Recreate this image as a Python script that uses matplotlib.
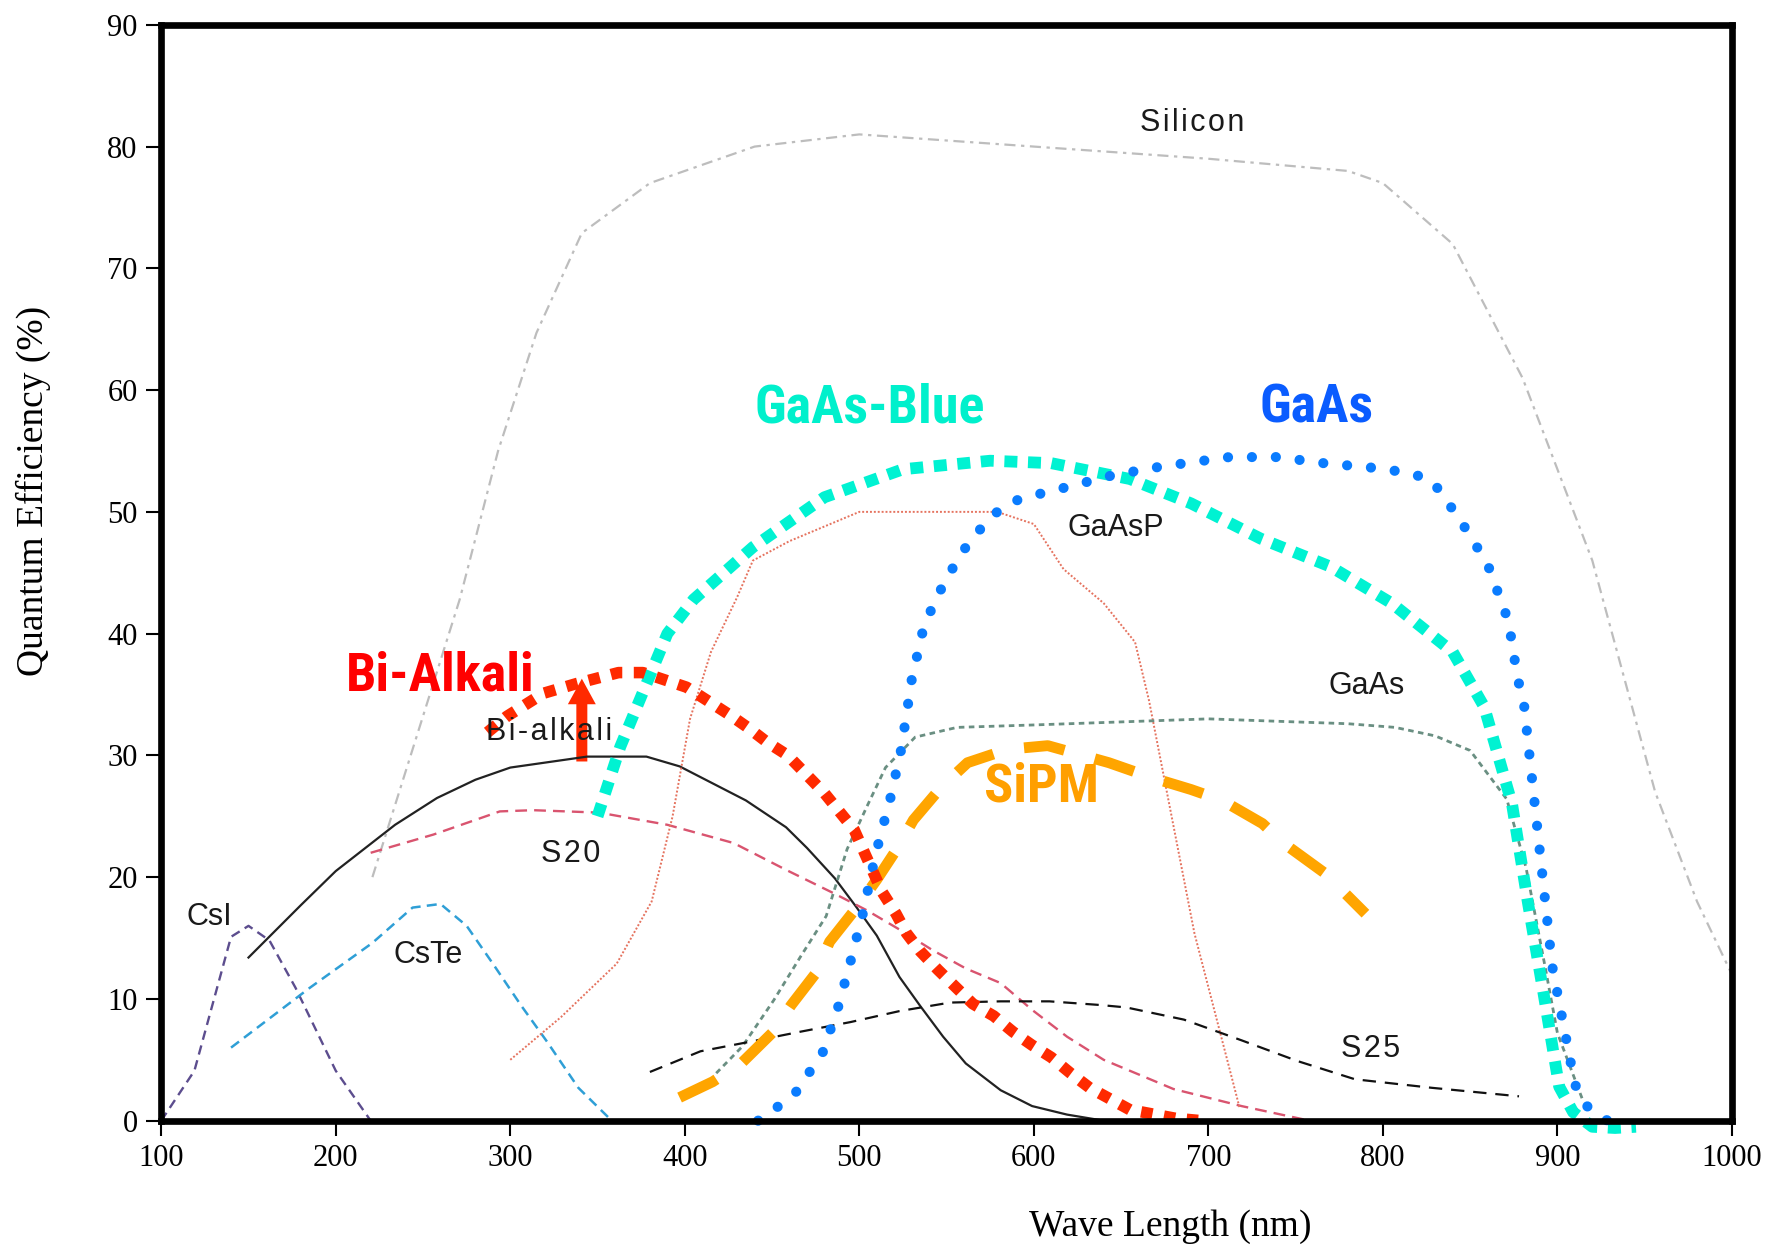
import matplotlib
matplotlib.use('Agg')
import matplotlib.pyplot as plt
from matplotlib import font_manager as fm

# reference photocathode curves (wavelength nm, QE %)
si_x = [221, 271, 293, 315, 341, 380, 440, 500, 600, 700, 780, 800, 840, 880, 920, 956, 980, 1000]
si_y = [20, 42.8, 55, 64.7, 72.9, 77, 80, 81, 80, 79, 78, 77, 72, 61, 46, 27, 18, 12]

bia_x = [150, 180, 200, 234, 258, 280, 300, 344, 378, 397, 435, 458, 470, 486, 498, 510, 523, 535, 548, 561, 581, 599, 619, 640]
bia_y = [13.4, 17.7, 20.5, 24.3, 26.5, 28, 29, 29.9, 29.9, 29.1, 26.3, 24.1, 22.4, 19.9, 17.6, 15.2, 11.8, 9.4, 6.9, 4.7, 2.5, 1.2, 0.5, 0]

s20_x = [220, 256, 294, 313, 351, 390, 428, 458, 485, 504, 523, 542, 561, 581, 599, 619, 640, 680, 719, 758]
s20_y = [22, 23.5, 25.4, 25.5, 25.3, 24.3, 22.8, 20.6, 18.7, 17.3, 15.7, 14, 12.5, 11.3, 9.1, 6.9, 5, 2.6, 1.2, 0]

csi_x = [100, 119, 140, 150, 162, 177, 200, 220]
csi_y = [0, 4.1, 15.1, 16, 14.8, 10.9, 4.1, 0]

cste_x = [140, 185, 221, 244, 260, 275, 290, 306, 321, 339, 356]
cste_y = [6, 10.9, 14.6, 17.5, 17.8, 16, 12.9, 9.5, 6.5, 2.7, 0.3]

gaasp_x = [300, 329, 361, 381, 393, 403, 415, 430, 439, 460, 500, 579, 600, 617, 640, 658, 666, 692, 718]
gaasp_y = [5, 8.5, 12.9, 18, 25, 33, 38.5, 43, 46, 47.6, 50, 50, 49, 45.3, 42.5, 39.3, 34.5, 15.4, 1]

gaas_ref_x = [418, 433, 451, 466, 481, 493, 505, 515, 532, 556, 600, 700, 780, 807, 830, 850, 871, 882, 893, 900, 915]
gaas_ref_y = [3.9, 6.1, 9.9, 13.4, 16.8, 22.3, 26, 29, 31.5, 32.3, 32.5, 33, 32.6, 32.3, 31.6, 30.4, 26.4, 20.8, 12.6, 7.2, 1.5]

s25_x = [380, 409, 438, 466, 495, 523, 552, 581, 609, 638, 653, 686, 719, 751, 784, 828, 878]
s25_y = [4, 5.7, 6.5, 7.3, 8.1, 9, 9.7, 9.8, 9.8, 9.5, 9.3, 8.3, 6.6, 4.9, 3.4, 2.7, 2]

# highlighted curves
blue_x = [350, 363, 374, 390, 405, 439, 480, 525, 575, 610, 655, 690, 730, 770, 805, 840, 858, 874, 883, 892, 901, 909, 920, 933, 945]
blue_y = [25, 30.7, 34.5, 40, 42.8, 47.1, 51.2, 53.5, 54.2, 54, 52.7, 50.7, 47.8, 45.5, 42.5, 38.5, 34, 26, 18, 10.5, 2.8, 0.7, -0.5, -0.6, -0.5]

gaas_x = [442, 452, 464, 479, 488, 495, 502, 508, 511, 518, 524, 530, 536, 541, 547, 554, 561, 570, 579, 591, 604, 618,
          645, 672, 712, 740, 766, 796, 815, 828, 844, 860, 872, 877, 881, 887, 897, 910, 916, 927, 940]
gaas_y = [0, 1, 2.4, 5.6, 9.4, 13.1, 17, 21, 22.8, 26.6, 30.5, 36.2, 40, 41.9, 43.7, 45.5, 47.1, 48.7, 50, 51, 51.5, 52,
          53, 53.7, 54.5, 54.5, 54, 53.6, 53.2, 52.6, 49.4, 45.7, 41, 36.5, 34, 26, 12.7, 3, 1.3, 0.1, -0.5]

bialk_x = [287, 298, 319, 338, 362, 376, 401, 413, 426, 437, 447, 459, 480, 497, 513, 521, 527, 535, 545, 555, 565, 577,
           588, 599, 610, 621, 632, 655, 681, 696]
bialk_y = [31.9, 33.2, 35.1, 35.9, 36.8, 36.8, 35.6, 34.5, 33.3, 32.2, 31.1, 30, 26.9, 23.9, 18.8, 17, 15.4, 13.9, 12.4,
           11, 9.6, 8.6, 7.3, 6.2, 5.2, 3.9, 2.7, 0.9, 0.2, 0]

sipm_x = [397, 416, 433, 450, 461, 475, 483, 499, 510, 521, 531, 547, 562, 585, 608, 643, 667, 690, 708, 731, 743, 767, 790]
sipm_y = [1.9, 3.2, 4.8, 7.2, 9.5, 12.1, 14.7, 17.6, 19.8, 22.2, 24.7, 27.4, 29.4, 30.5, 30.8, 29.4, 28.2, 27.2, 26.3,
          24.4, 22.8, 20.3, 17]

xticks = [100, 200, 300, 400, 500, 600, 700, 800, 900, 1000]
yticks = [0, 10, 20, 30, 40, 50, 60, 70, 80, 90]


def is_bold(f):
    w = f.weight
    if isinstance(w, str):
        return 'bold' in w.lower() and 'semi' not in w.lower() and 'extra' not in w.lower()
    return w == 700


# look for a condensed bold sans font for the big labels
big_font = None
for pref in ['Liberation Sans Narrow', 'Roboto Condensed', 'Noto Sans', 'Open Sans', 'DejaVu Sans']:
    for f in fm.fontManager.ttflist:
        narrow = f.stretch in ('condensed', 'semi-condensed') or 'ondensed' in f.name or 'Narrow' in f.name
        if f.name.startswith(pref) and narrow and is_bold(f) and f.style == 'normal':
            big_font = f.fname
            break
    if big_font:
        break

fig = plt.figure(figsize=(17.68, 12.47), dpi=100)
ax = fig.add_axes([0.0912, 0.1013, 0.8884, 0.8788])

# thin reference curves
ax.plot(si_x, si_y, color='#bdbdbd', lw=1.6, ls=(0, (5, 2.5, 1.5, 2.5)))
ax.plot(bia_x, bia_y, color='#222222', lw=1.6)
ax.plot(s20_x, s20_y, color='#d9546f', lw=1.7, ls=(0, (5, 3)))
ax.plot(csi_x, csi_y, color='#5c4d8e', lw=1.7, ls=(0, (4, 2.5)))
ax.plot(cste_x, cste_y, color='#2f9fd6', lw=1.8, ls=(0, (4, 2.5)))
ax.plot(gaasp_x, gaasp_y, color='#e5735f', lw=1.4, ls=(0, (1, 1)))
ax.plot(gaas_ref_x, gaas_ref_y, color='#6a8f82', lw=2.0, ls=(0, (2, 1.6)))
ax.plot(s25_x, s25_y, color='#111111', lw=1.6, ls=(0, (6, 4)))

# thick highlighted curves
ax.plot(blue_x, blue_y, color='#00f2d2', lw=8.5, ls=(0, (1.1, 0.9)), solid_capstyle='butt', clip_on=False)
ax.plot(sipm_x, sipm_y, color='#ffa500', lw=7.8, ls=(0, (3.8, 2.9)))
ax.plot(gaas_x, gaas_y, color='#0a7cff', lw=7.3, ls=(0, (0.01, 2.35)), dash_capstyle='round', clip_on=False)
ax.plot(bialk_x, bialk_y, color='#ff2a00', lw=8.3, ls=(0, (1, 1)))

ax.arrow(341, 29.5, 0, 6.8, width=6.3, head_width=16, head_length=2.1, length_includes_head=True,
         color='#ff2a00', lw=0)

# labels
def spaced(s):
    return '\u200a'.join(s)

small = dict(fontsize=22, color='#1a1a1a', family=['Liberation Sans', 'DejaVu Sans'], ha='center', va='center')
ax.text(691, 81.9, spaced('Silicon'), **small)
ax.text(322, 31.9, spaced('Bi-alkali'), **small)
ax.text(334.5, 21.9, spaced('S20'), **small)
ax.text(127.8, 16.7, 'CsI', **small)
ax.text(253, 13.6, 'CsTe', **small)
ax.text(793, 5.9, spaced('S25'), **small)
ax.text(647, 48.7, 'GaAsP', **small)
ax.text(790.6, 35.7, 'GaAs', **small)

if big_font:
    big = dict(fontproperties=fm.FontProperties(fname=big_font, size=39), ha='center', va='center')
else:
    big = dict(fontsize=33, fontweight='bold', family='Liberation Sans', ha='center', va='center')
ax.text(506, 58.5, 'GaAs-Blue', color='#00f0cc', **big)
ax.text(762, 58.5, 'GaAs', color='#0a5cff', **big)
ax.text(259.6, 36.5, 'Bi-Alkali', color='#ff0000', **big)
ax.text(604.5, 27.4, 'SiPM', color='#ff9f00', **big)

ax.set_xlim(100, 1000)
ax.set_ylim(0, 90)
ax.set_xticks(xticks)
ax.set_yticks(yticks)
for sp in ax.spines.values():
    sp.set_linewidth(4.8)
ax.tick_params(direction='out', length=11, width=1.5, pad=6, labelsize=22)
for lab in ax.get_xticklabels() + ax.get_yticklabels():
    lab.set_family('Liberation Serif')

fig.text(0.662, 0.0163, 'Wave Length (nm)', family='Liberation Serif', fontsize=27, ha='center', va='center')
fig.text(0.0191, 0.6067, 'Quantum Efficiency (%)', family='Liberation Serif', fontsize=27, ha='center', va='center',
         rotation=90)

fig.savefig('out.png', dpi=100)
